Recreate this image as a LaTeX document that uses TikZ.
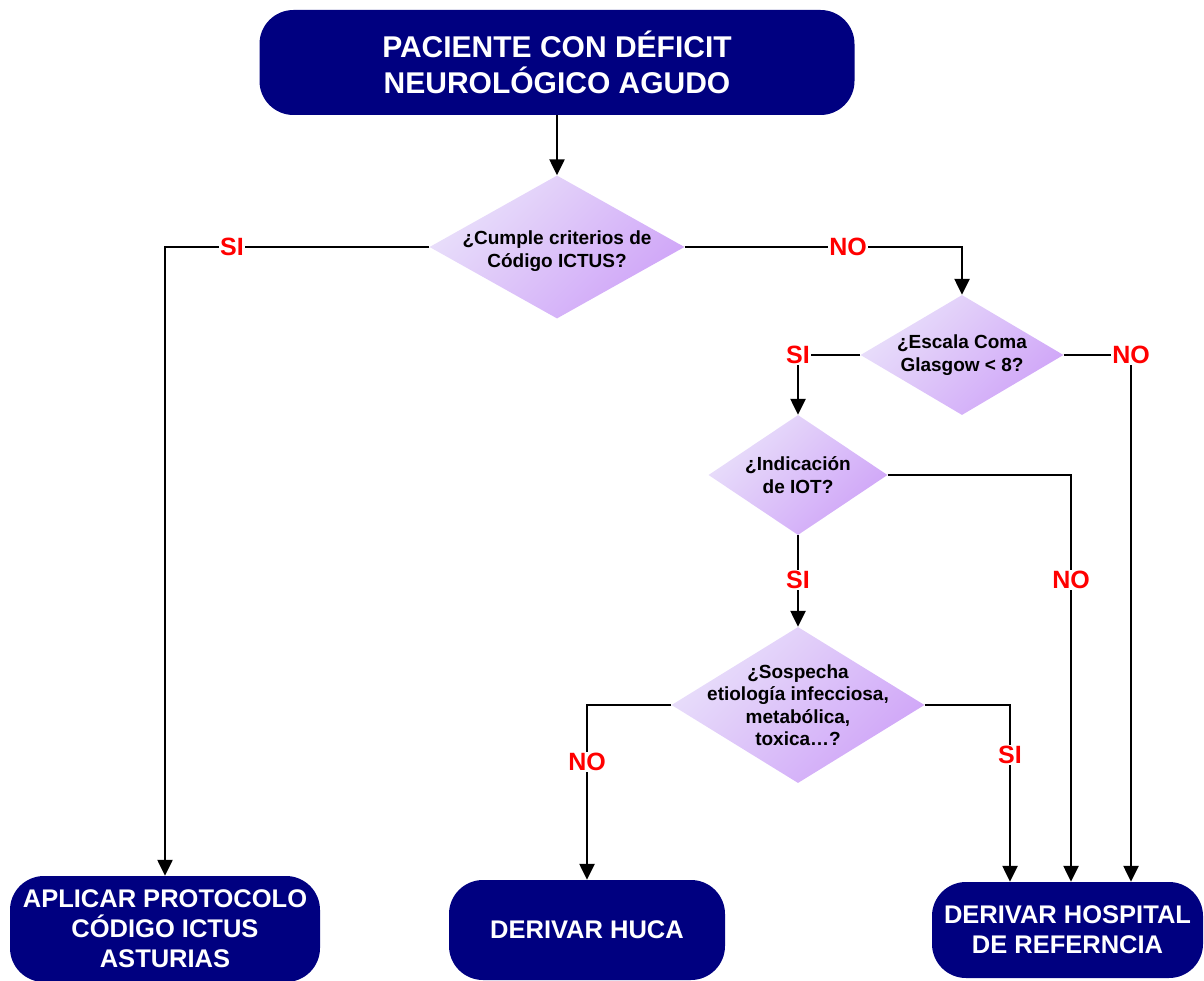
\documentclass[tikz,border=0pt]{standalone}
\usepackage{fontspec}
\setmainfont{Liberation Sans}
\usetikzlibrary{shapes.geometric,arrows.meta,positioning}

\definecolor{navybox}{RGB}{0,0,128}
\definecolor{lavlight}{RGB}{233,224,250}
\definecolor{lavdark}{RGB}{207,164,248}

\tikzset{
  term/.style={fill=navybox, rounded corners=34pt, text=white, align=center, inner sep=0pt,
    font=\fontsize{25.5}{30}\selectfont\bfseries},
  decision/.style={diamond, top color=lavlight, bottom color=lavdark, shading angle=45, inner sep=0pt},
  qtext/.style={font=\fontsize{19}{22.5}\selectfont\bfseries, align=center},
  answer/.style={text=red, fill=white, inner sep=1.5pt, font=\fontsize{25}{25}\selectfont\bfseries},
  flow/.style={line width=2.4pt, -{Triangle[width=15pt,length=16pt]}},
}

\begin{document}
\begin{tikzpicture}[x=1pt,y=-1pt]
  \useasboundingbox (0,0) rectangle (1204,981);

  % terminales
  \node[term, minimum width=595, minimum height=105, font=\fontsize{30}{36}\selectfont\bfseries]
    (paciente) at (557,62.5) {PACIENTE CON DÉFICIT\\NEUROLÓGICO AGUDO};
  \node[term, minimum width=310, minimum height=106] (ictus) at (165,929)
    {APLICAR PROTOCOLO\\CÓDIGO ICTUS\\ASTURIAS};
  \node[term, minimum width=276, minimum height=100] (huca) at (587,930) {DERIVAR HUCA};
  \node[term, minimum width=271, minimum height=96] (hospital) at (1067.5,930)
    {DERIVAR HOSPITAL\\DE REFERNCIA};

  % decisiones
  \node[decision, minimum width=255, minimum height=143,
    label={[qtext, yshift=-4pt]center:{¿Cumple criterios de\\Código ICTUS?}}] (codigo) at (557,247) {};
  \node[decision, minimum width=203, minimum height=120,
    label={[qtext]center:{¿Escala Coma\\Glasgow < 8?}}] (glasgow) at (962,355) {};
  \node[decision, minimum width=179, minimum height=120,
    label={[qtext]center:{¿Indicación\\de IOT?}}] (iot) at (798,475) {};
  \node[decision, minimum width=253, minimum height=156,
    label={[qtext]center:{¿Sospecha\\etiología infecciosa,\\metabólica,\\toxica…?}}] (sospecha) at (798,705) {};

  % conexiones
  \draw[flow] (paciente.south) -- (codigo.north);
  \draw[flow] (codigo.west) -| (ictus.north);
  \draw[flow] (codigo.east) -| (glasgow.north);
  \draw[flow] (glasgow.west) -| (iot.north);
  \draw[flow] (glasgow.east) -| ([xshift=63.5pt]hospital.north);
  \draw[flow] (iot.east) -| ([xshift=3.5pt]hospital.north);
  \draw[flow] (iot.south) -- (sospecha.north);
  \draw[flow] (sospecha.west) -| (huca.north);
  \draw[flow] (sospecha.east) -| ([xshift=-57.5pt]hospital.north);

  % respuestas
  \node[answer] (si1) at (232,247) {SI};
  \node[answer] (no1) at (848,247) {NO};
  \node[answer] (si2) at (798,355) {SI};
  \node[answer] (no2) at (1131,355) {NO};
  \node[answer] (no3) at (1071,580) {NO};
  \node[answer] (si3) at (798,580) {SI};
  \node[answer] (no4) at (587,762) {NO};
  \node[answer] (si4) at (1010,755) {SI};
\end{tikzpicture}
\end{document}
